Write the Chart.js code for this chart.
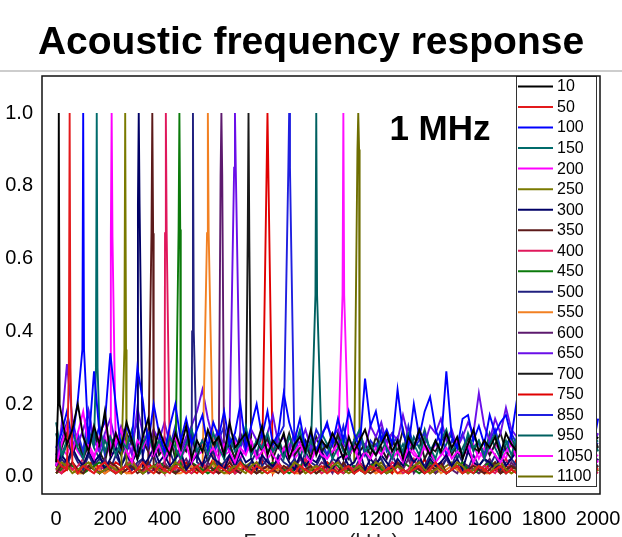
<!DOCTYPE html>
<html><head><meta charset="utf-8">
<script src="https://cdn.jsdelivr.net/npm/chart.js@4.4.1/dist/chart.umd.min.js"></script>
<style>
html,body{margin:0;padding:0;background:#fff;overflow:hidden;}
#wrap{position:relative;width:622px;height:565px;}
</style></head><body>
<div id="wrap"><canvas id="c"></canvas></div>
<script>
// ---- data (values in % of peak amplitude) ----
const seriesLabels = ['10','50','100','150','200','250','300','350','400','450','500','550','600','650','700','750','850','950','1050','1100'];
const seriesColors = ['#000000','#e31a1c','#0000ff','#006b6b','#ff00ff','#7a7a00','#000066','#5c1a1a','#e0185c','#0b7a0b','#20207f','#f28022','#5d1a6e','#6a0fe8','#1a1a1a','#e00000','#1f1fe0','#006060','#ff10ff','#6e6e00'];
const freqGrid = [0,20,40,60,80,100,120,140,160,180,200,220,240,260,280,300,320,340,360,380,400,420,440,460,480,500,520,540,560,580,600,620,640,660,680,700,720,740,760,780,800,820,840,860,880,900,920,940,960,980,1000,1020,1040,1060,1080,1100,1120,1140,1160,1180,1200,1220,1240,1260,1280,1300,1320,1340,1360,1380,1400,1420,1440,1460,1480,1500,1520,1540,1560,1580,1600,1620,1640,1660,1680,1700,1720,1740,1760,1780,1800,1820,1840,1860,1880,1900,1920,1940,1960,1980,2000];
const peakFreq = [10,50,100,150,205,255,305,355,405,455,505,560,610,660,710,780,860,960,1060,1115];
const peakTop = [100,100,100,100,100,100,100,100,100,100,100,100,100,100,100,100,100,100,100,100];
const peakShoulder = [20,30,35,30,66,35,75,67,67,68,40,67,83,85,65,85,85,50,50,90];

const noise10 = [4,17,9,13,20,11,7,14,9,18,6,12,8,15,10,5,11,16,7,13, 9,6,12,8,14,5,10,7,13,9,11,6,15,8,10,12,7,9,14,6, 10,8,12,5,9,11,7,13,6,10,8,12,9,5,11,7,10,13,8,6, 9,12,7,10,5,11,8,13,9,6,10,7,12,8,11,5,9,13,7,10, 8,11,6,12,9,7,10,14,8,5,11,9,7,12,6,10,8,13,7,9,11];
const noise50 = [5,3,2,4,1,3,2,1,3,4,2,1,2,3,1,2,4,2,1,3, 2,1,3,2,1,2,3,1,2,1,3,2,1,2,4,2,1,3,2,1, 2,3,1,2,1,3,2,1,2,3,1,2,1,2,3,1,2,1,3,2, 1,2,3,1,2,1,2,3,1,2,4,2,1,2,3,1,2,1,3,2, 1,2,3,1,2,1,3,2,1,2,3,1,2,1,2,3,1,2,1,3,2];
const noise100 = [8,12,18,10,21,14,9,29,12,15,34,20,8,14,10,30,21,9,20,12, 7,14,20,10,16,9,13,17,8,15,11,18,9,12,20,8,14,20,11,18, 9,12,23,15,10,16,8,12,7,11,15,9,16,10,18,12,8,27,14,18, 10,13,9,24,12,8,20,11,18,22,13,9,29,11,8,16,17,10,14,9, 17,12,15,17,11,21,13,9,16,11,14,8,12,17,10,13,9,15,11,8,16];
const noise150 = [15,6,10,13,8,5,12,9,14,7,11,6,10,8,13,5,9,12,7,10, 6,11,8,5,9,13,7,10,6,12,8,5,11,7,9,14,6,10,8,12, 7,9,5,11,8,13,6,10,7,12,9,5,8,11,6,10,13,7,9,6, 11,8,5,10,7,12,9,6,11,8,5,10,13,7,9,6,12,8,10,5, 9,12,7,10,6,11,8,5,10,13,7,9,6,11,8,10,5,12,7,9,10];
const noise200 = [3,9,14,7,12,18,8,5,11,16,6,9,13,7,4,10,8,12,6,9, 5,8,11,6,9,4,7,10,6,8,5,9,7,4,8,6,10,5,7,9, 6,4,8,5,7,9,6,4,8,6,5,7,9,5,6,8,4,7,5,8, 6,9,5,7,4,8,6,5,9,7,4,6,8,5,7,6,9,4,7,5, 8,6,4,7,9,5,6,8,4,7,5,9,6,4,8,6,7,5,9,6,4];
const noise250 = [2,4,3,1,2,3,4,2,1,2,3,2,1,3,4,2,1,2,3,2, 1,2,4,3,1,2,3,1,2,4,2,1,2,3,2,1,3,4,2,1, 2,3,1,2,4,3,1,2,3,2,1,3,4,2,1,2,3,1,2,4, 3,1,2,3,2,1,3,4,2,1,2,3,1,2,4,3,1,2,3,2, 1,3,4,2,1,2,3,2,1,3,4,2,1,2,3,1,2,4,3,1,2];
const noise300 = [3,6,4,8,5,3,7,4,6,2,5,8,3,6,4,7,3,5,8,4, 6,3,5,7,2,4,6,3,8,5,4,2,6,3,7,4,5,2,6,4, 3,5,7,4,2,6,3,5,4,7,3,2,5,6,3,4,7,2,5,3, 6,4,2,5,3,7,4,6,2,5,3,4,6,3,5,2,7,4,3,5, 4,2,6,3,5,7,3,4,2,6,5,3,4,7,2,5,3,6,4,2,5];
const noise350 = [1,3,2,4,2,1,3,2,1,2,4,3,1,2,3,1,2,4,2,1, 3,2,1,2,3,4,2,1,3,2,1,2,4,2,1,3,2,1,2,3, 2,1,3,2,4,1,2,3,1,2,3,2,1,4,2,1,3,2,1,2, 3,1,2,4,2,1,3,2,1,3,2,4,1,2,3,1,2,3,2,1, 2,4,1,2,3,2,1,3,2,1,4,2,1,3,2,1,2,3,1,2,3];
const noise400 = [2,1,4,2,3,5,2,1,3,2,4,1,2,3,5,2,1,3,2,4, 1,3,2,5,2,1,3,4,2,1,2,3,5,1,2,3,1,4,2,3, 2,4,1,2,3,1,5,2,3,1,2,4,2,1,3,2,4,1,2,3, 1,2,4,3,1,2,5,2,1,3,2,4,1,2,3,2,1,4,2,3, 2,1,3,5,2,1,2,3,4,1,2,3,1,4,2,3,1,2,5,2,1];
const noise450 = [1,2,4,3,2,1,2,3,4,3,2,1,2,3,4,2,1,2,3,4, 3,2,1,2,3,4,3,2,1,2,3,2,1,2,4,3,2,1,2,3, 4,3,2,1,2,3,4,2,1,2,3,4,3,1,2,3,2,1,3,4, 2,1,2,3,4,3,2,1,2,4,3,2,1,2,3,4,2,1,2,3, 4,3,1,2,3,2,1,3,4,2,1,2,3,4,2,1,2,3,2,1,2];
const noise500 = [2,5,3,7,4,2,6,3,5,4,2,6,3,7,2,4,5,3,6,2, 4,7,3,5,2,6,4,3,5,7,2,4,6,3,5,2,4,7,3,5, 2,6,4,3,5,2,7,4,3,6,2,5,4,3,6,2,5,7,3,4, 5,2,6,3,4,7,2,5,3,6,4,2,5,3,7,4,2,6,3,5, 3,6,2,4,5,3,7,2,4,6,3,5,2,4,6,3,5,2,7,4,3];
const noise550 = [1,2,3,2,1,1,2,3,2,1,2,3,2,1,1,2,3,2,1,2, 3,2,1,1,2,3,2,1,2,3,2,1,1,2,3,2,1,2,3,2, 1,2,3,2,1,1,2,3,2,1,2,3,2,1,2,1,2,3,2,1, 2,3,2,1,1,2,3,2,1,2,3,1,2,3,2,1,2,3,2,1, 1,2,3,2,1,2,3,2,1,1,2,3,2,1,2,3,2,1,2,3,2];
const noise600 = [2,3,5,2,1,4,2,3,1,5,2,3,1,4,2,3,5,1,2,3, 4,2,1,3,5,2,3,1,4,2,3,5,1,2,4,3,1,2,5,3, 2,4,1,3,2,5,3,1,2,4,3,1,5,2,3,1,4,2,3,5, 1,2,4,3,2,5,1,3,2,4,1,3,5,2,1,4,3,2,1,3, 5,2,3,1,4,2,3,5,1,2,4,3,1,2,5,3,2,1,4,2,3];
const noise650 = [3,14,31,16,9,13,18,10,7,12,16,9,14,11,6,19,12,8,13,10, 15,9,12,7,11,14,18,24,16,10,13,8,12,9,11,7,13,10,8,12, 17,9,11,7,12,9,13,8,10,12,14,11,13,9,7,10,12,8,14,11, 15,9,12,10,17,11,8,13,9,14,12,16,10,13,8,11,15,12,23,14, 10,16,12,19,13,11,15,9,13,18,10,12,14,9,16,11,13,10,15,9,12];
const noise700 = [3,8,12,6,10,5,9,13,7,4,11,8,6,12,9,5,10,7,13,6, 8,11,5,9,7,12,6,10,4,8,11,7,9,5,12,8,6,10,7,11, 5,9,7,12,6,8,10,5,11,7,9,6,12,8,5,10,7,9,6,11, 8,5,10,7,13,6,9,11,5,8,7,10,12,6,9,5,11,8,7,10, 6,9,12,7,5,10,8,11,6,13,7,9,5,10,8,6,11,7,9,12,8];
const noise750 = [3,1,2,4,2,1,3,5,2,1,2,4,3,1,2,3,1,4,2,1, 2,3,1,2,4,2,1,3,2,5,1,2,3,1,4,2,3,1,2,3, 1,4,2,3,1,2,5,3,1,2,4,2,1,3,2,1,4,2,3,1, 2,3,1,4,2,1,3,2,5,1,2,3,1,2,4,3,1,2,3,1, 4,2,1,3,2,5,1,2,3,1,4,2,1,3,2,1,3,4,2,1,2];
const noise850 = [6,10,15,8,12,7,18,9,14,6,11,8,13,7,10,15,6,12,9,7, 11,8,14,6,10,13,7,9,12,6,10,14,7,11,8,13,6,9,12,10, 7,11,14,8,6,12,9,7,13,10,6,11,8,14,7,9,12,6,10,8, 13,7,9,11,6,14,8,10,12,7,9,13,6,10,8,12,7,11,9,6, 10,13,8,7,12,9,6,11,14,8,10,7,12,9,6,11,8,13,7,10,9];
const noise950 = [12,5,9,7,11,6,13,8,5,10,7,12,6,9,11,5,8,13,7,10, 8,6,11,7,9,12,5,10,8,6,13,7,9,5,11,8,10,6,12,7, 9,11,6,8,12,5,10,7,13,8,6,9,11,7,5,10,12,6,8,9, 7,10,12,6,9,5,11,8,13,7,10,6,9,12,5,8,11,7,10,6, 12,8,5,9,11,7,10,6,13,8,9,5,11,7,10,12,6,9,8,11,7];
const noise1050 = [4,8,6,10,7,5,9,6,8,11,6,7,9,5,8,6,10,7,5,8, 6,9,7,5,8,10,6,7,9,5,8,6,7,10,5,8,7,6,9,5, 7,8,6,9,5,7,10,6,8,7,5,9,6,8,7,10,5,7,9,6, 8,5,7,9,6,10,7,5,8,6,9,7,5,8,10,6,7,9,5,8, 6,9,7,5,10,6,8,7,5,9,6,8,10,5,7,6,9,7,8,5,6];
const noise1100 = [1,3,4,2,1,2,3,4,2,1,3,2,1,2,4,3,1,2,3,2, 1,2,3,4,2,1,2,3,1,2,4,3,2,1,2,3,4,2,1,2, 3,2,1,2,4,3,1,2,3,2,4,3,1,2,3,4,2,1,2,3, 4,2,1,3,2,1,2,4,3,2,1,2,3,4,2,1,3,2,1,2, 3,4,2,1,2,3,1,2,4,3,1,2,3,2,1,4,3,2,1,2,3];

const xTicks = [0,200,400,600,800,1000,1200,1400,1600,1800,2000];
const yTicks = [0,0.2,0.4,0.6,0.8,1.0];

const noiseSeries = [noise10,noise50,noise100,noise150,noise200,noise250,noise300,noise350,noise400,noise450,noise500,noise550,noise600,noise650,noise700,noise750,noise850,noise950,noise1050,noise1100];

function buildPoints(s) {
  const f = peakFreq[s];
  const sh = peakShoulder[s] / 100;
  const pts = [];
  freqGrid.forEach((x, i) => {
    if (Math.abs(x - f) > 3 && noiseSeries[s][i] !== undefined) pts.push({x: x, y: noiseSeries[s][i] / 100});
  });
  pts.push({x: f - 3, y: sh}, {x: f, y: peakTop[s] / 100}, {x: f + 3, y: sh});
  pts.sort((a, b) => a.x - b.x);
  return pts;
}

const datasets = seriesLabels.map((lab, s) => ({
  label: lab,
  data: buildPoints(s),
  borderColor: seriesColors[s],
  backgroundColor: seriesColors[s],
  borderWidth: 1.9,
  pointRadius: 0,
  tension: 0,
  fill: false
}));

const FONT = "'Liberation Sans', Arial, Helvetica, sans-serif";

const overlay = {
  id: 'overlay',
  beforeDraw(chart) {
    const ctx = chart.ctx, ca = chart.chartArea;
    ctx.save();
    ctx.strokeStyle = '#bdbdbd';
    ctx.lineWidth = 1.5;
    ctx.beginPath();
    ctx.moveTo(0, ca.top - 5);
    ctx.lineTo(chart.width, ca.top - 5);
    ctx.stroke();
    ctx.restore();
  },
  afterDatasetsDraw(chart) {
    const ctx = chart.ctx, ca = chart.chartArea;
    const xs = chart.scales.x, ys = chart.scales.y;
    ctx.save();
    ctx.fillStyle = '#000';
    ctx.font = 'bold 35px ' + FONT;
    ctx.textAlign = 'left';
    ctx.textBaseline = 'alphabetic';
    ctx.fillText('1 MHz', xs.getPixelForValue(1230), ys.getPixelForValue(0.925));
    const left = ca.right - 84, right = ca.right - 3, top = ca.top, bottom = ca.bottom - 7;
    ctx.fillStyle = '#fff';
    ctx.fillRect(left, top, right - left, bottom - top);
    ctx.strokeStyle = '#333';
    ctx.lineWidth = 1;
    ctx.strokeRect(left + 0.5, top + 0.5, right - left - 1, bottom - top - 1);
    const n = chart.data.datasets.length;
    const step = (bottom - top - 21) / (n - 1);
    ctx.font = '16px ' + FONT;
    ctx.textBaseline = 'middle';
    chart.data.datasets.forEach((ds, i) => {
      const y = top + 10.5 + i * step;
      ctx.strokeStyle = ds.borderColor;
      ctx.lineWidth = 2;
      ctx.beginPath();
      ctx.moveTo(left + 2, y);
      ctx.lineTo(left + 37, y);
      ctx.stroke();
      ctx.fillStyle = '#000';
      ctx.fillText(ds.label, left + 41, y + 0.5);
    });
    ctx.restore();
  },
  afterDraw(chart) {
    const ctx = chart.ctx, ca = chart.chartArea;
    ctx.save();
    ctx.strokeStyle = '#111';
    ctx.lineWidth = 1.5;
    ctx.strokeRect(ca.left, ca.top, ca.right - ca.left, ca.bottom - ca.top);
    ctx.restore();
  }
};

new Chart(document.getElementById('c'), {
  type: 'line',
  data: { datasets: datasets },
  plugins: [overlay],
  options: {
    responsive: true,
    maintainAspectRatio: false,
    devicePixelRatio: 1,
    animation: false,
    events: [],
    layout: { padding: { left: 0, right: 0, top: 0, bottom: 0 } },
    plugins: {
      legend: { display: false },
      tooltip: { enabled: false },
      title: {
        display: true,
        text: 'Acoustic frequency response',
        color: '#000',
        font: { family: FONT, size: 39, weight: 'bold', lineHeight: 1.2 },
        padding: { top: 20, bottom: 9.2 }
      }
    },
    scales: {
      x: {
        type: 'linear',
        min: -52,
        max: 2007,
        afterBuildTicks: (s) => { s.ticks = xTicks.map(v => ({ value: v })); },
        afterFit: (s) => { s.height = 71; s.paddingLeft = 0; s.paddingRight = 22; },
        grid: { display: false, drawTicks: false },
        border: { display: false },
        ticks: { color: '#000', font: { family: FONT, size: 20 }, padding: 13, maxRotation: 0, autoSkip: false, callback: (v) => String(v) },
        title: {
          display: true,
          text: 'Frequency (kHz)',
          color: '#222',
          font: { family: FONT, size: 21 },
          padding: { top: 0, bottom: 10 }
        }
      },
      y: {
        type: 'linear',
        min: -0.047,
        max: 1.102,
        afterBuildTicks: (s) => { s.ticks = yTicks.map(v => ({ value: v })); },
        afterFit: (s) => { s.width = 42; s.paddingTop = 0; s.paddingBottom = 0; },
        grid: { display: false, drawTicks: false },
        border: { display: false },
        ticks: { color: '#000', font: { family: FONT, size: 20 }, padding: 9, callback: (v) => Number(v).toFixed(1) }
      }
    }
  }
});
</script>
</body></html>
